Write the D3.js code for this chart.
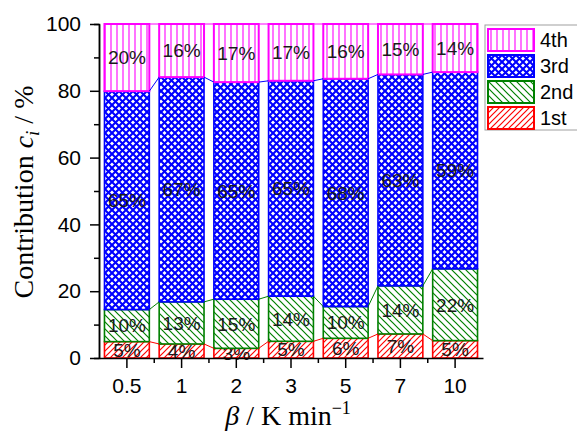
<!DOCTYPE html>
<html>
<head>
<meta charset="utf-8">
<script src="https://cdn.jsdelivr.net/npm/d3@7"></script>
<style>
  body { margin: 0; background: #fff; }
  svg { display: block; }
</style>
</head>
<body>
<div id="chart"></div>
<script>
// heating rates on the x axis
var rates = ["0.5", "1", "2", "3", "5", "7", "10"];

// contribution of each step, in %
var first  = [4.9, 4.2, 2.9, 5.0, 5.9, 7.2, 5.2];
var second = [9.6, 12.6, 14.7, 13.5, 9.5, 14.4, 21.5];
var third  = [65.4, 67.3, 65.0, 64.5, 68.2, 63.3, 58.9];
var fourth = [20.1, 15.9, 17.4, 17.0, 16.4, 15.1, 14.4];

var seriesNames = ["1st", "2nd", "3rd", "4th"];
var yTicks = [0, 20, 40, 60, 80, 100];

var width = 577,
    height = 432,
    margin = {top: 24, right: 94, bottom: 74, left: 99};

var colors = {"1st": "#ff0000", "2nd": "#008000", "3rd": "#0000ff", "4th": "#ff00ff"};

var svg = d3.select("#chart")
    .append("svg")
    .attr("width", width)
    .attr("height", height);

// hatch patterns
var defs = svg.append("defs");

let pat = (id, size) => defs.append("pattern")
    .attr("id", id)
    .attr("patternUnits", "userSpaceOnUse")
    .attr("width", size)
    .attr("height", size);

let p1 = pat("hatch1st", 6);
p1.append("rect").attr("width", 6).attr("height", 6).attr("fill", "#fff");
p1.append("path").attr("d", "M-1,7 L7,-1 M-1,1 L1,-1 M5,7 L7,5")
    .attr("stroke", colors["1st"]).attr("stroke-width", 1.2);

let p2 = pat("hatch2nd", 7);
p2.append("rect").attr("width", 7).attr("height", 7).attr("fill", "#fff");
p2.append("path").attr("d", "M-1,-1 L8,8 M-1,6 L1,8 M6,-1 L8,1")
    .attr("stroke", colors["2nd"]).attr("stroke-width", 1.2);

let p3 = pat("hatch3rd", 7);
p3.append("rect").attr("width", 7).attr("height", 7).attr("fill", "#fff");
p3.append("path").attr("d", "M-1,-1 L8,8 M8,-1 L-1,8")
    .attr("stroke", colors["3rd"]).attr("stroke-width", 2.1);

let p4 = pat("hatch4th", 6);
p4.append("rect").attr("width", 6).attr("height", 6).attr("fill", "#fff");
p4.append("path").attr("d", "M3,0 L3,6")
    .attr("stroke", colors["4th"]).attr("stroke-width", 1.1);

// stacked data
var table = rates.map((r, i) => ({
    rate: r,
    "1st": first[i],
    "2nd": second[i],
    "3rd": third[i],
    "4th": fourth[i]
}));
var stacked = d3.stack().keys(seriesNames)(table);

var x = d3.scaleBand()
    .domain(rates)
    .range([margin.left, 483])
    .paddingInner(0.18)
    .paddingOuter(0.1);

var y = d3.scaleLinear()
    .domain([0, 100])
    .range([height - margin.bottom, margin.top]);

var bw = x.bandwidth();

// bars
var layers = svg.append("g").selectAll("g")
    .data(stacked)
    .join("g");

layers.selectAll("rect")
    .data(d => d.map(v => ({key: d.key, v: v})))
    .join("rect")
    .attr("x", d => x(d.v.data.rate))
    .attr("y", d => y(d.v[1]))
    .attr("width", bw)
    .attr("height", d => y(d.v[0]) - y(d.v[1]))
    .attr("fill", d => "url(#hatch" + d.key + ")")
    .attr("stroke", d => colors[d.key])
    .attr("stroke-width", d => d.key == "4th" ? 2 : 1.6);

// connect lines between bar tops
stacked.forEach(s => {
    for (var i = 0; i < s.length - 1; i++) {
        svg.append("line")
            .attr("x1", x(rates[i]) + bw)
            .attr("y1", y(s[i][1]))
            .attr("x2", x(rates[i + 1]))
            .attr("y2", y(s[i + 1][1]))
            .attr("stroke", colors[s.key])
            .attr("stroke-width", 1);
    }
});

// percent labels
layers.selectAll("text")
    .data(d => d.map(v => ({key: d.key, v: v})))
    .join("text")
    .attr("x", d => x(d.v.data.rate) + bw / 2)
    .attr("y", d => (y(d.v[0]) + y(d.v[1])) / 2)
    .attr("dy", "0.36em")
    .attr("text-anchor", "middle")
    .style("font-family", "Liberation Sans, Arial, sans-serif")
    .style("font-size", "19px")
    .attr("fill", "#1a1a1a")
    .text(d => Math.round(d.v[1] - d.v[0]) + "%");

// axes
let styleAxis = (g) => {
    g.select(".domain").attr("stroke", "#000").attr("stroke-width", 1.5);
    g.selectAll(".tick line").attr("stroke", "#000").attr("stroke-width", 1.5);
    g.selectAll("text")
        .attr("fill", "#000")
        .style("font-family", "Liberation Sans, Arial, sans-serif")
        .style("font-size", "21px");
};

// y minor ticks
svg.append("g")
    .attr("transform", `translate(${margin.left}, 0)`)
    .call(d3.axisLeft(y).tickValues(d3.range(10, 100, 20)).tickSize(5).tickFormat(""))
    .call(styleAxis);

svg.append("g")
    .attr("transform", `translate(${margin.left}, 0)`)
    .call(d3.axisLeft(y).tickValues(yTicks).tickSize(9).tickPadding(9).tickSizeOuter(0))
    .call(styleAxis);

// x minor ticks at band boundaries
var step = x.step();
var xBottom = y(0);
svg.append("g")
    .selectAll("line")
    .data(rates.slice(0, -1))
    .join("line")
    .attr("x1", d => x(d) + bw / 2 + step / 2)
    .attr("x2", d => x(d) + bw / 2 + step / 2)
    .attr("y1", xBottom)
    .attr("y2", xBottom + 5)
    .attr("stroke", "#000")
    .attr("stroke-width", 1.5);

svg.append("g")
    .attr("transform", `translate(0, ${xBottom})`)
    .call(d3.axisBottom(x).tickSize(10).tickPadding(10).tickSizeOuter(0))
    .call(styleAxis);

// axis titles
var yTitle = svg.append("text")
    .attr("transform", `translate(33, 192) rotate(-90)`)
    .attr("text-anchor", "middle")
    .style("font-family", "Liberation Serif, Times New Roman, serif")
    .style("font-size", "28px")
    .attr("fill", "#000");
yTitle.append("tspan").text("Contribution ");
yTitle.append("tspan").style("font-style", "italic").text("c");
yTitle.append("tspan").style("font-style", "italic").style("font-size", "19px").attr("dy", 6).text("i");
yTitle.append("tspan").attr("dy", -6).text(" / %");

var xTitle = svg.append("text")
    .attr("transform", `translate(288, 425)`)
    .attr("text-anchor", "middle")
    .style("font-family", "Liberation Serif, Times New Roman, serif")
    .style("font-size", "28px")
    .attr("fill", "#000");
xTitle.append("tspan").style("font-style", "italic").text("β");
xTitle.append("tspan").text(" / K min");
xTitle.append("tspan").style("font-size", "18px").attr("dy", -11).text("−1");

// legend
var legend = svg.append("g");
legend.append("rect")
    .attr("x", 485).attr("y", 25)
    .attr("width", 100).attr("height", 105)
    .attr("fill", "#fff")
    .attr("stroke", "#a0a0a0")
    .attr("stroke-width", 1);

var legendOrder = seriesNames.slice().reverse();
var items = legend.selectAll("g.item")
    .data(legendOrder)
    .join("g")
    .attr("class", "item")
    .attr("transform", (d, i) => `translate(488, ${29 + i * 26})`);

items.append("rect")
    .attr("width", 46).attr("height", 22)
    .attr("fill", d => "url(#hatch" + d + ")")
    .attr("stroke", d => colors[d])
    .attr("stroke-width", 2);

items.append("text")
    .attr("x", 52).attr("y", 11)
    .attr("dy", "0.36em")
    .style("font-family", "Liberation Sans, Arial, sans-serif")
    .style("font-size", "20px")
    .attr("fill", "#000")
    .text(d => d);
</script>
</body>
</html>
